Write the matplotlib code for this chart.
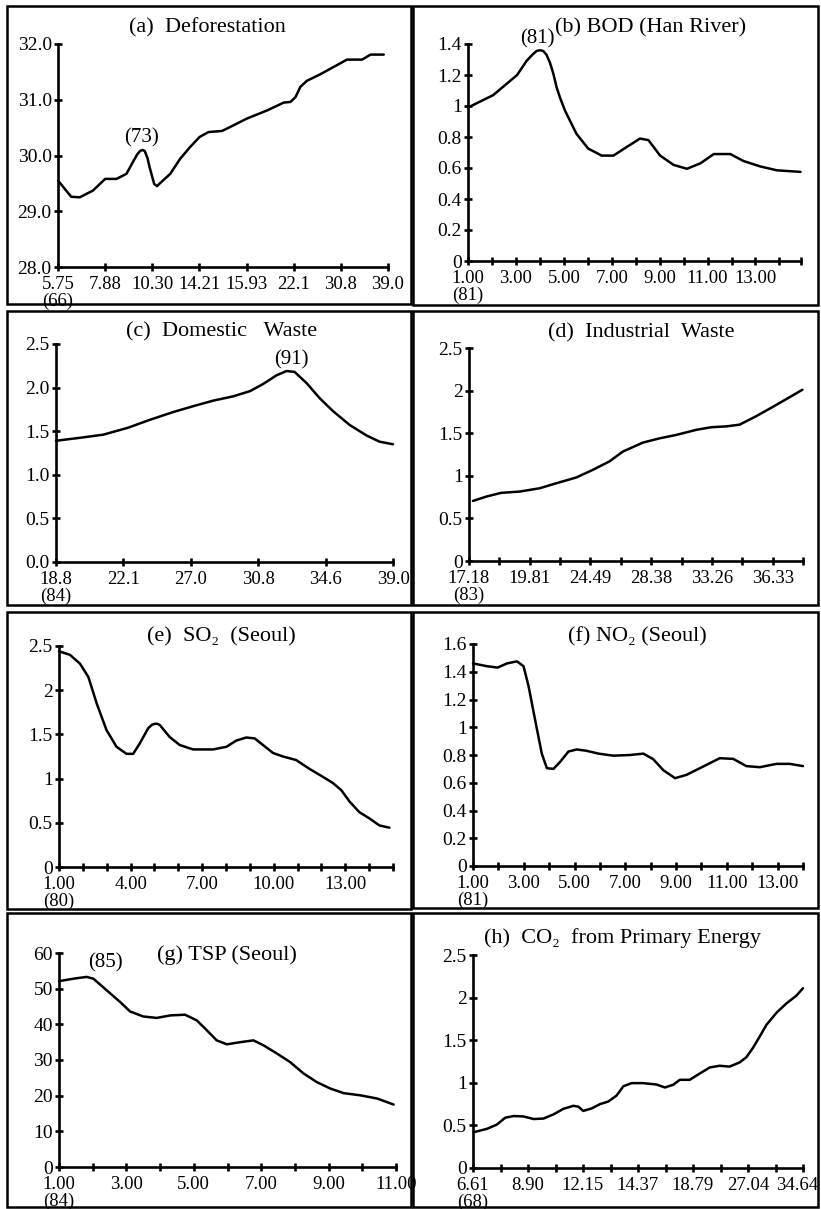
import matplotlib
matplotlib.use("Agg")
import matplotlib.pyplot as plt
from matplotlib.patches import Rectangle
from matplotlib.transforms import ScaledTranslation

plt.rcParams['font.family'] = ['Liberation Serif', 'DejaVu Serif']

W, H = 821, 1209

# (a) Deforestation
a_x = [0, 0.28, 0.46, 0.74, 1.0, 1.24, 1.45, 1.6, 1.68, 1.74, 1.79, 1.84, 1.9, 1.94, 2.04,
       2.1, 2.16, 2.38, 2.59, 2.8, 3.0, 3.19, 3.48, 3.72, 4.0, 4.44, 4.79, 4.93, 5.04, 5.14,
       5.28, 5.57, 5.85, 6.13, 6.45, 6.63, 6.91]
a_y = [29.55, 29.26, 29.25, 29.37, 29.58, 29.58, 29.67, 29.9, 30.02, 30.08, 30.1, 30.08,
       29.95, 29.8, 29.49, 29.45, 29.5, 29.67, 29.94, 30.15, 30.33, 30.42, 30.44, 30.54,
       30.66, 30.81, 30.95, 30.96, 31.05, 31.23, 31.34, 31.46, 31.59, 31.72, 31.72, 31.81,
       31.81]
a_xlabels = ["5.75\n(66)", "7.88", "10.30", "14.21", "15.93", "22.1", "30.8", "39.0"]
a_yticks = [28, 29, 30, 31, 32]
a_ylabels = ["28.0", "29.0", "30.0", "31.0", "32.0"]

# (b) BOD (Han River)
b_x = [1.0, 2.05, 3.05, 3.44, 3.65, 3.86, 4.0, 4.14, 4.28, 4.42, 4.56, 4.7, 4.85, 5.05, 5.53,
       6.02, 6.58, 7.07, 7.62, 8.18, 8.53, 9.02, 9.58, 10.14, 10.7, 11.26, 11.95, 12.5, 13.2,
       13.9, 14.88]
b_y = [0.99, 1.07, 1.20, 1.29, 1.325, 1.355, 1.36, 1.355, 1.33, 1.28, 1.21, 1.12, 1.05, 0.97,
       0.82, 0.725, 0.68, 0.68, 0.735, 0.79, 0.78, 0.68, 0.62, 0.595, 0.63, 0.69, 0.69,
       0.645, 0.61, 0.585, 0.575]
b_xlabels = ["1.00\n(81)", "", "3.00", "", "5.00", "", "7.00", "", "9.00", "", "11.00", "",
             "13.00", "", ""]
b_yticks = [0, 0.2, 0.4, 0.6, 0.8, 1.0, 1.2, 1.4]
b_ylabels = ["0", "0.2", "0.4", "0.6", "0.8", "1", "1.2", "1.4"]

# (c) Domestic Waste
c_x = [0, 0.41, 0.70, 1.07, 1.39, 1.74, 2.05, 2.33, 2.63, 2.88, 3.07, 3.27, 3.42, 3.54, 3.72,
       3.91, 4.11, 4.36, 4.61, 4.80, 5.0]
c_y = [1.39, 1.43, 1.46, 1.54, 1.63, 1.72, 1.79, 1.85, 1.90, 1.96, 2.04, 2.14, 2.19, 2.18,
       2.05, 1.88, 1.73, 1.57, 1.45, 1.38, 1.35]
c_xlabels = ["18.8\n(84)", "22.1", "27.0", "30.8", "34.6", "39.0"]
c_yticks = [0, 0.5, 1.0, 1.5, 2.0, 2.5]
c_ylabels = ["0.0", "0.5", "1.0", "1.5", "2.0", "2.5"]

# (d) Industrial Waste
d_x = [0.13, 0.57, 1.06, 1.67, 2.33, 2.88, 3.53, 4.08, 4.63, 5.07, 5.73, 6.28, 6.83, 7.49,
       7.98, 8.47, 8.91, 9.46, 10.01, 10.45, 10.98]
d_y = [0.705, 0.756, 0.80, 0.815, 0.854, 0.913, 0.98, 1.07, 1.17, 1.285, 1.39, 1.44, 1.48,
       1.54, 1.57, 1.58, 1.60, 1.70, 1.81, 1.90, 2.01]
d_xlabels = ["17.18\n(83)", "", "19.81", "", "24.49", "", "28.38", "", "33.26", "", "36.33", ""]
d_yticks = [0, 0.5, 1.0, 1.5, 2.0, 2.5]
d_ylabels = ["0", "0.5", "1", "1.5", "2", "2.5"]

# (e) SO2 (Seoul)
e_x = [1.0, 1.46, 1.88, 2.23, 2.58, 2.99, 3.41, 3.83, 4.11, 4.39, 4.74, 4.9, 5.02, 5.12, 5.23,
       5.64, 6.06, 6.62, 7.46, 8.02, 8.43, 8.85, 9.2, 9.55, 9.97, 10.39, 10.94, 11.5, 12.06,
       12.48, 12.83, 13.18, 13.59, 14.01, 14.43, 14.85]
e_y = [2.44, 2.40, 2.30, 2.15, 1.85, 1.55, 1.36, 1.28, 1.28, 1.40, 1.57, 1.61, 1.62, 1.62,
       1.605, 1.47, 1.38, 1.33, 1.33, 1.36, 1.43, 1.465, 1.455, 1.38, 1.29, 1.25, 1.21, 1.11,
       1.02, 0.95, 0.87, 0.74, 0.62, 0.55, 0.47, 0.445]
e_xlabels = ["1.00\n(80)", "", "", "4.00", "", "", "7.00", "", "", "10.00", "", "", "13.00",
             "", ""]
e_yticks = [0, 0.5, 1.0, 1.5, 2.0, 2.5]
e_ylabels = ["0", "0.5", "1", "1.5", "2", "2.5"]

# (f) NO2 (Seoul)
f_x = [1.0, 1.55, 1.97, 2.34, 2.73, 2.99, 3.19, 3.45, 3.71, 3.91, 4.17, 4.43, 4.76, 5.09,
       5.48, 5.94, 6.53, 7.19, 7.71, 8.1, 8.5, 8.96, 9.41, 10.07, 10.72, 11.25, 11.77, 12.3,
       12.95, 13.48, 14.0]
f_y = [1.46, 1.44, 1.43, 1.46, 1.475, 1.44, 1.295, 1.05, 0.81, 0.705, 0.70, 0.75, 0.825, 0.84,
       0.83, 0.81, 0.795, 0.80, 0.81, 0.77, 0.69, 0.633, 0.657, 0.717, 0.777, 0.772, 0.72,
       0.712, 0.736, 0.736, 0.72]
f_xlabels = ["1.00\n(81)", "", "3.00", "", "5.00", "", "7.00", "", "9.00", "", "11.00", "",
             "13.00", ""]
f_yticks = [0, 0.2, 0.4, 0.6, 0.8, 1.0, 1.2, 1.4, 1.6]
f_ylabels = ["0", "0.2", "0.4", "0.6", "0.8", "1", "1.2", "1.4", "1.6"]

# (g) TSP (Seoul)
g_x = [1.0, 1.43, 1.82, 2.02, 2.42, 2.81, 3.11, 3.5, 3.9, 4.3, 4.74, 5.09, 5.39, 5.68, 5.98,
       6.38, 6.77, 7.07, 7.47, 7.86, 8.26, 8.65, 9.05, 9.45, 9.94, 10.44, 10.93]
g_y = [52.1, 52.8, 53.3, 52.8, 49.5, 46.3, 43.6, 42.2, 41.8, 42.5, 42.7, 41.1, 38.3, 35.5,
       34.4, 35.0, 35.5, 34.1, 31.8, 29.4, 26.2, 23.8, 22.0, 20.7, 20.1, 19.2, 17.5]
g_xlabels = ["1.00\n(84)", "", "3.00", "", "5.00", "", "7.00", "", "9.00", "", "11.00"]
g_yticks = [0, 10, 20, 30, 40, 50, 60]
g_ylabels = ["0", "10", "20", "30", "40", "50", "60"]

# (h) CO2 from Primary Energy
h_x = [0.02, 0.51, 0.87, 1.17, 1.48, 1.84, 2.2, 2.56, 2.93, 3.29, 3.65, 3.83, 4.01, 4.32, 4.62,
       4.92, 5.22, 5.47, 5.77, 6.19, 6.67, 6.98, 7.28, 7.52, 7.88, 8.25, 8.61, 8.97, 9.33, 9.7,
       9.94, 10.18, 10.42, 10.67, 11.03, 11.39, 11.75, 12.0]
h_y = [0.42, 0.46, 0.51, 0.59, 0.61, 0.605, 0.575, 0.58, 0.63, 0.695, 0.73, 0.72, 0.67, 0.70,
       0.75, 0.78, 0.85, 0.96, 0.996, 0.996, 0.98, 0.945, 0.977, 1.035, 1.035, 1.11, 1.18,
       1.2, 1.19, 1.24, 1.30, 1.41, 1.54, 1.68, 1.82, 1.93, 2.02, 2.11]
h_xlabels = ["6.61\n(68)", "", "8.90", "", "12.15", "", "14.37", "", "18.79", "", "27.04", "",
             "34.64"]
h_yticks = [0, 0.5, 1.0, 1.5, 2.0, 2.5]
h_ylabels = ["0", "0.5", "1", "1.5", "2", "2.5"]


fig = plt.figure(figsize=(W / 100, H / 100), dpi=100)


def box(x0, y0, x1, y1):
    # frame around a panel, pixel coords from the top-left
    fig.add_artist(Rectangle((x0 / W, 1 - y1 / H), (x1 - x0) / W, (y1 - y0) / H,
                             transform=fig.transFigure, fill=False, lw=1.8, color='black'))


def panel(px, x, y, xlim, xticks, xlabels, ylim, yticks, ylabels, title, title_xy):
    left, top, right, bottom = px
    ax = fig.add_axes([left / W, 1 - bottom / H, (right - left) / W, (bottom - top) / H])
    ax.plot(x, y, color='black', lw=1.8, clip_on=False, solid_capstyle='round',
            solid_joinstyle='round')
    ax.set_xlim(*xlim)
    ax.set_ylim(*ylim)
    ax.set_xticks(xticks)
    ax.set_xticklabels(xlabels, linespacing=0.95)
    ax.set_yticks(yticks)
    ax.set_yticklabels(ylabels)
    for s in ['top', 'right']:
        ax.spines[s].set_visible(False)
    for s in ['left', 'bottom']:
        ax.spines[s].set_linewidth(1.9)
    ax.tick_params(direction='inout', length=6, width=1.9, labelsize=14)
    ax.tick_params(axis='x', pad=3.5, labelsize=13.5)
    ax.tick_params(axis='y', pad=1.5)
    ax.patch.set_alpha(0)
    fig.text(title_xy[0] / W, 1 - title_xy[1] / H, title, ha='center', va='center', fontsize=16)
    return ax


box(7, 6, 411, 304)
box(413, 6, 818, 305)
box(7, 311, 411, 605)
box(413, 311, 818, 605)
box(7, 612, 411, 909)
box(413, 612, 818, 908)
box(7, 913, 411, 1207)
box(413, 913, 818, 1207)

ax = panel((58, 44, 388, 267), a_x, a_y, (0, 7), range(8), a_xlabels, (28, 32),
           a_yticks, a_ylabels, "(a)  Deforestation", (207, 28))
ax.text(1.77, 30.14, "(73)", ha='center', va='bottom', fontsize=15)

ax = panel((468, 44, 801, 261), b_x, b_y, (1, 14.9), list(range(1, 15)) + [14.9], b_xlabels,
           (0, 1.4), b_yticks, b_ylabels, "(b) BOD (Han River)", (651, 28))
ax.text(3.9, 1.37, "(81)", ha='center', va='bottom', fontsize=15)

ax = panel((56, 344, 393, 562), c_x, c_y, (0, 5), range(6), c_xlabels, (0, 2.5),
           c_yticks, c_ylabels, "(c)  Domestic   Waste", (222, 332))
ax.text(3.49, 2.21, "(91)", ha='center', va='bottom', fontsize=15)

panel((469, 348, 803, 561), d_x, d_y, (0, 11), range(12), d_xlabels, (0, 2.5),
      d_yticks, d_ylabels, "(d)  Industrial  Waste", (641, 333))

panel((59, 646, 393, 867), e_x, e_y, (1, 15), range(1, 16), e_xlabels, (0, 2.5),
      e_yticks, e_ylabels, "(e)  SO\u2082  (Seoul)", (221, 637))

panel((473, 644, 803, 866), f_x, f_y, (1, 14), range(1, 15), f_xlabels, (0, 1.6),
      f_yticks, f_ylabels, "(f) NO\u2082 (Seoul)", (637, 637))

ax = panel((59, 953, 396, 1167), g_x, g_y, (1, 11), range(1, 12), g_xlabels, (0, 60),
           g_yticks, g_ylabels, "(g) TSP (Seoul)", (227, 955))
ax.text(2.37, 54.5, "(85)", ha='center', va='bottom', fontsize=15)

ax = panel((473, 955, 803, 1168), h_x, h_y, (0, 12), range(13), h_xlabels, (0, 2.5),
           h_yticks, h_ylabels, "(h)  CO\u2082  from Primary Energy", (622, 938))
# the last label sits against the frame; nudge it left so it stays inside the figure
last = ax.get_xticklabels()[-1]
last.set_transform(last.get_transform() + ScaledTranslation(-6 / 100, 0, fig.dpi_scale_trans))

fig.savefig("out.png", dpi=100)
